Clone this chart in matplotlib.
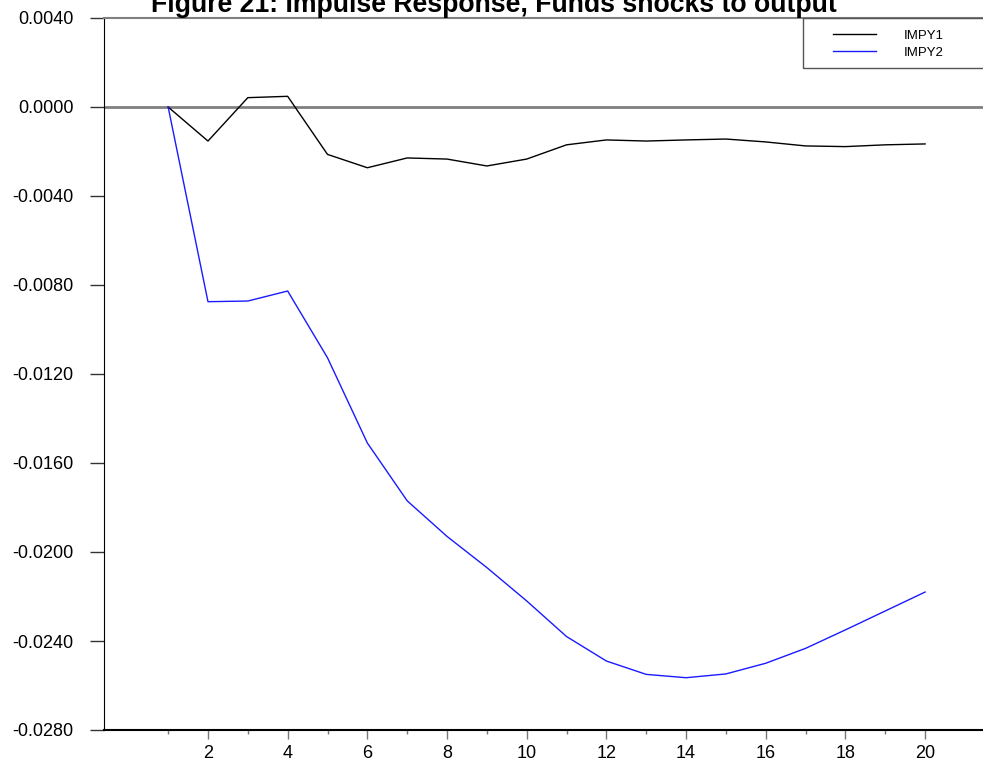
import matplotlib
matplotlib.use("Agg")
import matplotlib.pyplot as plt
from matplotlib.patches import Rectangle
from matplotlib.ticker import FixedLocator, FuncFormatter

plt.rcParams["font.family"] = ["Liberation Sans", "DejaVu Sans"]

# Impulse response horizon
periods = list(range(1, 21))

impy1 = [0.0, -0.00153, 0.00042, 0.00048, -0.00213, -0.00273, -0.00229,
         -0.00234, -0.00265, -0.00234, -0.00170, -0.00148, -0.00153,
         -0.00148, -0.00144, -0.00157, -0.00175, -0.00178, -0.00170,
         -0.00166]

impy2 = [0.0, -0.00875, -0.00872, -0.00827, -0.01127, -0.01510, -0.01770,
         -0.01930, -0.02070, -0.02220, -0.02380, -0.02490, -0.02550,
         -0.02565, -0.02548, -0.02500, -0.02433, -0.02350, -0.02265,
         -0.02180]

yTicks = [0.004, 0.0, -0.004, -0.008, -0.012, -0.016, -0.020, -0.024, -0.028]
xMajor = [2, 4, 6, 8, 10, 12, 14, 16, 18, 20]
xMinor = [1, 3, 5, 7, 9, 11, 13, 15, 17, 19]

W, H = 983, 767
fig = plt.figure(figsize=(W / 100, H / 100), dpi=100)

# axes box in pixels: left 104, top 18, bottom 730, right runs off the image
left, top, bottom = 104, 18, 730
ax = fig.add_axes([left / W, (H - bottom) / H, (W - left) / W + 0.01,
                   (bottom - top) / H])

ax.plot(periods, impy1, color="black", lw=1.0, label="IMPY1")
ax.plot(periods, impy2, color="#1a1aff", lw=1.0, label="IMPY2")
ax.axhline(0, color="#808080", lw=2.0, zorder=1)

ax.set_xlim(-0.61, 21.7)
ax.set_ylim(-0.028, 0.004)

ax.yaxis.set_major_locator(FixedLocator(yTicks))
ax.yaxis.set_major_formatter(FuncFormatter(lambda v, p: "%.4f" % v))
ax.xaxis.set_major_locator(FixedLocator(xMajor))
ax.xaxis.set_minor_locator(FixedLocator(xMinor))

ax.tick_params(axis="y", direction="out", length=10, width=1.0,
               labelsize=13, pad=12, color="#333333")
ax.tick_params(axis="x", which="major", direction="out", length=6.5,
               width=1.0, labelsize=13, pad=4, color="#777777")
ax.tick_params(axis="x", which="minor", direction="out", length=3,
               width=1.0, color="#777777")

ax.spines["right"].set_visible(False)
ax.spines["top"].set_color("#808080")
ax.spines["top"].set_linewidth(1.5)
ax.spines["left"].set_color("black")
ax.spines["bottom"].set_color("black")
ax.spines["bottom"].set_linewidth(1.5)

# legend box, anchored at the top frame line and cut by the right edge
fig.patches.append(Rectangle((803 / W, (H - 68) / H), 200 / W, 50 / H,
                             transform=fig.transFigure, fill=False,
                             edgecolor="#555555", lw=1.0))
ax.legend(loc="upper left", bbox_to_anchor=(826 / W, (H - 23) / H),
          bbox_transform=fig.transFigure, frameon=False, fontsize=9.5,
          handlelength=3.3, handletextpad=2.1, labelspacing=0.36,
          borderpad=0.0)

fig.text(494 / W, (H - 12) / H,
         "Figure 21: Impulse Response, Funds shocks to output",
         ha="center", va="baseline", fontsize=19.2, fontweight="bold")

fig.savefig("out.png", dpi=100)
